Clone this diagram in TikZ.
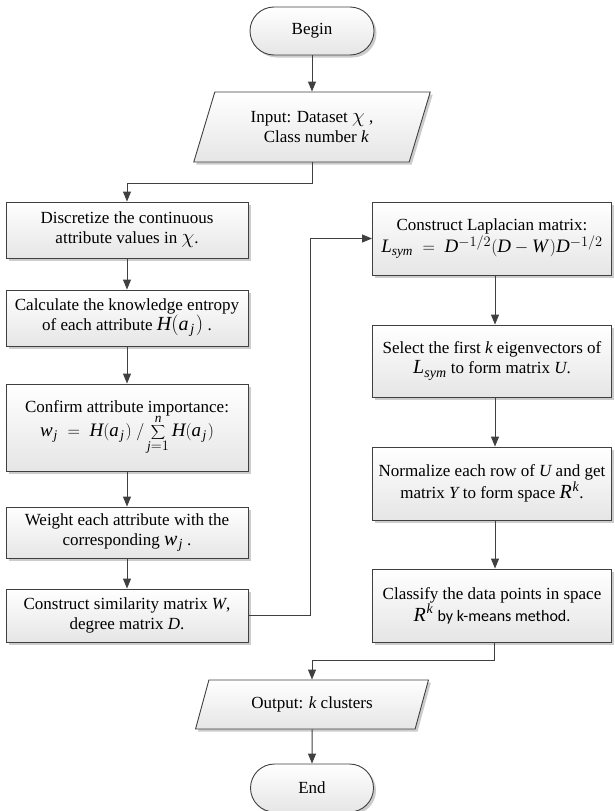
\documentclass[tikz,border=0pt]{standalone}
\usepackage{fontspec}
\setmainfont{Liberation Serif}
\newfontfamily\calib{Carlito}
\newfontfamily\serit{Liberation Serif}[NFSSFamily=libserit]
\DeclareSymbolFont{tletters}{TU}{libserit}{m}{it}
\DeclareMathSymbol{H}{\mathalpha}{tletters}{`H}
\DeclareMathSymbol{a}{\mathalpha}{tletters}{`a}
\DeclareMathSymbol{j}{\mathalpha}{tletters}{`j}
\DeclareMathSymbol{w}{\mathalpha}{tletters}{`w}
\DeclareMathSymbol{n}{\mathalpha}{tletters}{`n}
\DeclareMathSymbol{L}{\mathalpha}{tletters}{`L}
\DeclareMathSymbol{s}{\mathalpha}{tletters}{`s}
\DeclareMathSymbol{y}{\mathalpha}{tletters}{`y}
\DeclareMathSymbol{m}{\mathalpha}{tletters}{`m}
\DeclareMathSymbol{D}{\mathalpha}{tletters}{`D}
\DeclareMathSymbol{W}{\mathalpha}{tletters}{`W}
\DeclareMathSymbol{U}{\mathalpha}{tletters}{`U}
\DeclareMathSymbol{Y}{\mathalpha}{tletters}{`Y}
\DeclareMathSymbol{R}{\mathalpha}{tletters}{`R}
\DeclareMathSymbol{k}{\mathalpha}{tletters}{`k}
\usetikzlibrary{shapes.geometric,shadows,arrows.meta}
\definecolor{linec}{HTML}{404040}
\newcommand{\bmth}[1]{{\fontsize{20}{20}\selectfont$#1$}}
\newcommand{\aj}{a\mkern1.5mu_{j}\mkern1mu}
\begin{document}
\begin{tikzpicture}[x=1pt,y=-1pt,
  every node/.style={font=\fontsize{17}{20}\selectfont, align=center, inner sep=0pt},
  boxbase/.style={draw=linec, line width=0.9pt, top color=white, bottom color=gray!20,
    drop shadow={shadow xshift=2.5pt, shadow yshift=-2.5pt, fill=gray!40, opacity=1}},
  procl/.style={boxbase, rectangle, minimum width=242pt},
  procr/.style={boxbase, rectangle, minimum width=239pt},
  term/.style={boxbase, rectangle, rounded corners=24pt, minimum width=124pt, minimum height=48pt},
  io/.style={boxbase, trapezium, trapezium stretches=true},
  arr/.style={draw=linec, line width=1pt, -{Triangle[length=10pt,width=8pt]}}
]
\useasboundingbox (0,0) rectangle (614,811);

\node[term] (begin) at (312,31) {Begin};
\node[io, minimum width=237pt, minimum height=70pt, trapezium left angle=67, trapezium right angle=113] (input) at (312,127)
  {Input: Dataset \bmth{\chi} ,\\ \ \ Class number $k$};

\node[procl, minimum height=56pt] (b1) at (127,230) {Discretize the continuous\\ attribute values in \bmth{\chi}.};
\node[procl, minimum height=56pt] (b2) at (127,318) {Calculate the knowledge entropy\\ of each attribute \bmth{H(\aj)} .};
\node[procl, minimum height=87pt] (b3) at (127,427.5) {Confirm attribute importance:\\[-2pt] {\fontsize{19}{20}\selectfont$w\mkern1mu_j \;=\; H(\aj)\;/\displaystyle\sum_{j=1}^{n} H(\aj)$}};
\node[procl, minimum height=51pt] (b4) at (127,532.5) {Weight each attribute with the\\ corresponding \bmth{w\mkern1mu_j} .};
\node[procl, minimum height=53pt] (b5) at (127,615.5) {Construct similarity matrix $W$,\\ degree matrix $D$.};

\node[procr, minimum height=73pt] (b6) at (492,238.5) {Construct Laplacian matrix:\\ {\fontsize{19}{20}\selectfont$L_{sym} \;=\; D^{-1/2}(D - W\mkern2mu)D^{-1/2}$}};
\node[procr, minimum height=72pt] (b7) at (492,361) {Select the first $k$ eigenvectors of\\ \bmth{L_{sym}} to form matrix $U$.};
\node[procr, minimum height=73pt] (b8) at (492,483.5) {Normalize each row of $U$ and get\\ matrix $Y$ to form space \bmth{R^{\mkern1mu k}}.};
\node[procr, minimum height=73pt] (b9) at (492,605.5) {Classify the data points in space\\ \bmth{R^{\mkern1mu k}} {\calib\fontsize{16}{20}\selectfont by k-means method.}};

\node[io, minimum width=233pt, minimum height=49pt, trapezium left angle=63, trapezium right angle=117] (output) at (312,704.5)
  {Output: $k$ clusters};
\node[term, minimum width=123pt] (end) at (312,788) {End};

\draw[arr] (begin) -- (input);
\draw[arr] (input.south) -- ++(0,21) -| (b1.north);
\draw[arr] (b1) -- (b2);
\draw[arr] (b2) -- (b3);
\draw[arr] (b3) -- (b4);
\draw[arr] (b4) -- (b5);
\draw[arr] (b5.east) -- ++(62,0) |- (b6.west);
\draw[arr] ([xshift=3pt]b6.south) -- ([xshift=3pt]b7.north);
\draw[arr] ([xshift=3pt]b7.south) -- ([xshift=3pt]b8.north);
\draw[arr] ([xshift=3pt]b8.south) -- ([xshift=3pt]b9.north);
\draw[arr] ([xshift=2pt]b9.south) -- ++(0,18) -| (output.north);
\draw[arr] (output) -- (end);
\end{tikzpicture}
\end{document}
